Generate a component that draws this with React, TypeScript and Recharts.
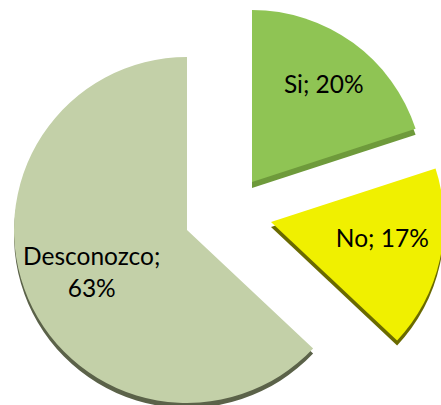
import React from 'react';
import { PieChart, Pie, Cell } from 'recharts';

const categories = ['Si', 'No', 'Desconozco'];
const shares = [20, 17, 63];

const data = categories.map((name, i) => ({ name, value: shares[i] }));

const faceColors = ['#8fc454', '#f0f000', '#c3d0a8'];
const edgeColors = ['#6e9a3b', '#6a6a00', '#5b6249'];

// each slice is drawn by its own pie so it can be pulled out of the centre
const slices = [
  { index: 2, cx: 187, cy: 230, r: 173, depth: 5, labelRatio: 0.6, labelTurn: 0 },
  { index: 0, cx: 252, cy: 182, r: 172, depth: 6, labelRatio: 0.71, labelTurn: 0 },
  { index: 1, cx: 271, cy: 222, r: 173, depth: 5, labelRatio: 0.65, labelTurn: 4.5 },
];

const RAD = Math.PI / 180;

const makeLabel = (target: number, ratio: number, turn: number) => (props: any) => {
  const { cx, cy, midAngle, outerRadius, index, name, value } = props;
  if (index !== target) return null;
  const r = outerRadius * ratio;
  const a = midAngle + turn;
  const x = cx + r * Math.cos(-a * RAD);
  const y = cy + r * Math.sin(-a * RAD);
  const style = { fontFamily: 'Lato, "Open Sans", sans-serif', fontSize: 24.5, fill: '#000' };
  if (name === 'Desconozco') {
    return (
      <text x={x} y={y} textAnchor="middle" style={style}>
        <tspan x={x} dy={-6}>{`${name};`}</tspan>
        <tspan x={x} dy={32}>{`${value}%`}</tspan>
      </text>
    );
  }
  return (
    <text x={x} y={y} textAnchor="middle" dominantBaseline="central" style={style}>
      {`${name}; ${value}%`}
    </text>
  );
};

export default function App() {
  return (
    <div style={{ position: 'absolute', left: 0, top: 0, background: '#fff' }}>
      <PieChart width={441} height={405} margin={{ top: 0, right: 0, bottom: 0, left: 0 }}>
        {slices.map((s) => (
          <Pie
            key={`edge-${s.index}`}
            data={data}
            dataKey="value"
            cx={s.cx}
            cy={s.cy + s.depth}
            outerRadius={s.r}
            startAngle={90}
            endAngle={-270}
            stroke="none"
            isAnimationActive={false}
          >
            {data.map((d, i) => (
              <Cell key={d.name} fill={i === s.index ? edgeColors[i] : 'none'} />
            ))}
          </Pie>
        ))}
        {slices.map((s) => (
          <Pie
            key={`face-${s.index}`}
            data={data}
            dataKey="value"
            cx={s.cx}
            cy={s.cy}
            outerRadius={s.r}
            startAngle={90}
            endAngle={-270}
            stroke="none"
            labelLine={false}
            label={makeLabel(s.index, s.labelRatio, s.labelTurn)}
            isAnimationActive={false}
          >
            {data.map((d, i) => (
              <Cell key={d.name} fill={i === s.index ? faceColors[i] : 'none'} />
            ))}
          </Pie>
        ))}
      </PieChart>
    </div>
  );
}
